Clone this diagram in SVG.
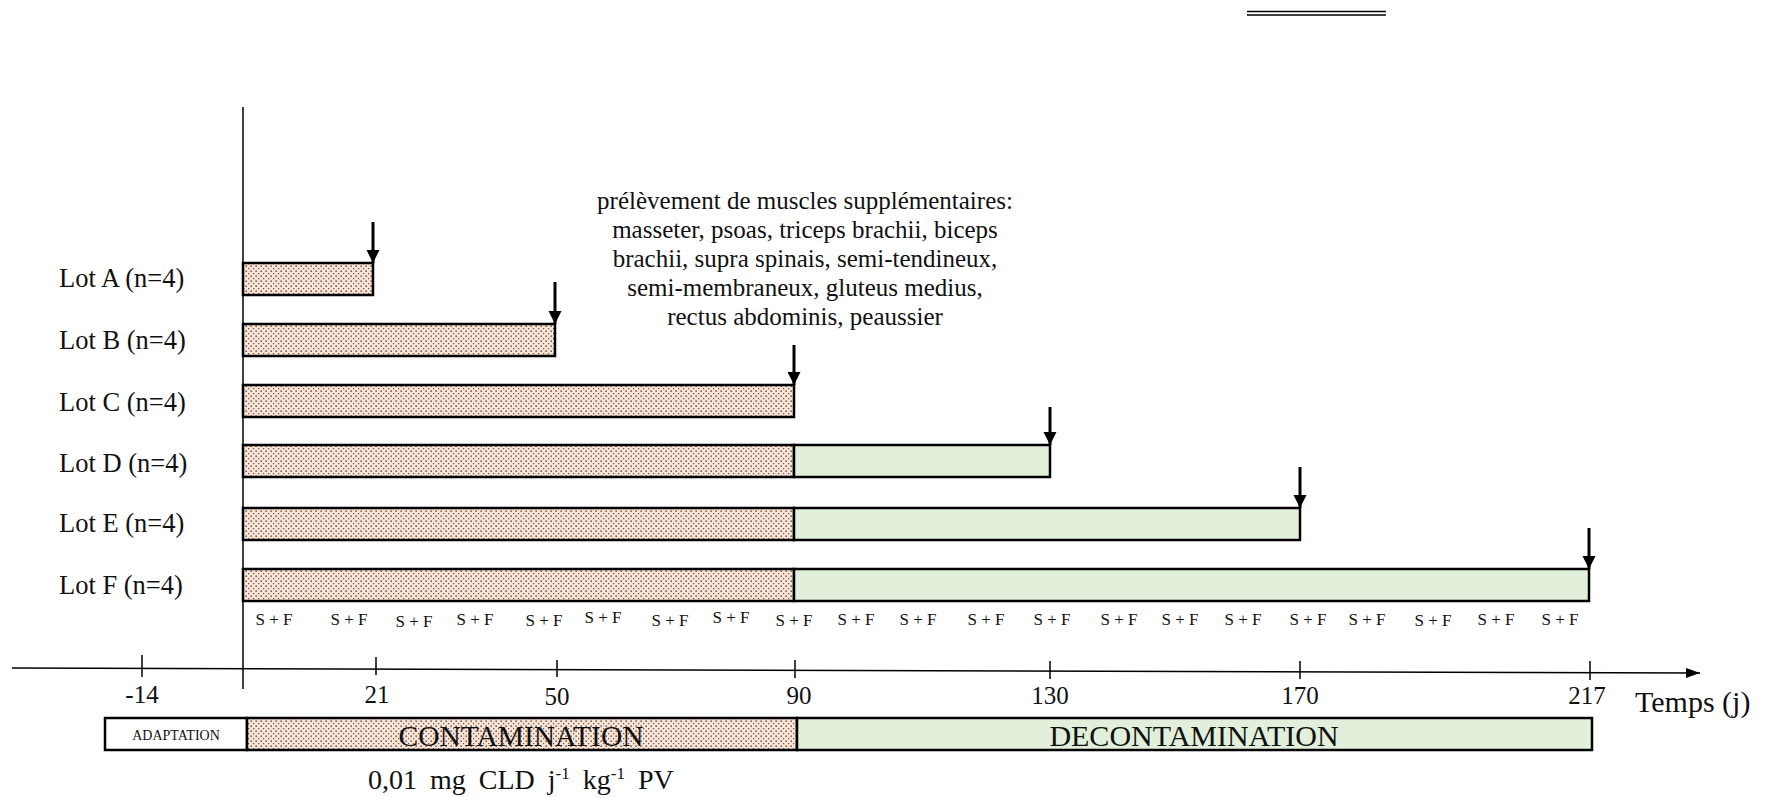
<svg xmlns="http://www.w3.org/2000/svg" width="1765" height="798" viewBox="0 0 1765 798">
<style>
  text { font-family: "Liberation Serif", "Times New Roman", serif; fill: #111; }
  .lot { font-size: 26.5px; }
  .ann { font-size: 25px; text-anchor: middle; }
  .sf { font-size: 17px; text-anchor: middle; }
  .tick { font-size: 25px; text-anchor: middle; }
  .bar { stroke: #000; stroke-width: 2.5; }
  .cont { fill: url(#dots); }
  .dec { fill: #e2efda; }
  .ln { stroke: #000; stroke-width: 1.5; fill: none; }
  .arr { stroke: #000; stroke-width: 3; fill: none; }
</style>
<defs>
  <pattern id="dots" width="5" height="5" patternUnits="userSpaceOnUse">
    <rect width="5" height="5" fill="#fbe3d4"/>
    <rect x="0.5" y="0.5" width="1.3" height="1.3" fill="#2a2a2a"/>
    <rect x="3" y="3" width="1.2" height="1.2" fill="#555"/>
  </pattern>
  <marker id="ah" markerWidth="14" markerHeight="14" refX="13" refY="6.5" orient="auto" markerUnits="userSpaceOnUse">
    <path d="M0,0 L13,6.5 L0,13 z" fill="#000"/>
  </marker>
  <marker id="axh" markerWidth="16" markerHeight="12" refX="14" refY="5" orient="auto" markerUnits="userSpaceOnUse">
    <path d="M0,0 L14,5 L0,10 z" fill="#000"/>
  </marker>
</defs>
<rect width="1765" height="798" fill="#fff"/>

<g id="top-rule">
  <line x1="1247" y1="11.5" x2="1386" y2="11.5" class="ln"/>
  <line x1="1247" y1="15" x2="1386" y2="15" class="ln"/>
</g>

<g id="axes">
  <line x1="243" y1="107" x2="243" y2="689" class="ln"/>
  <line x1="12" y1="668" x2="1700" y2="673" class="ln" marker-end="url(#axh)"/>
  <line x1="142" y1="655" x2="142" y2="677" class="ln"/>
  <line x1="376" y1="657" x2="376" y2="675" class="ln"/>
  <line x1="557" y1="660" x2="557" y2="677" class="ln"/>
  <line x1="795" y1="660" x2="795" y2="678" class="ln"/>
  <line x1="1050" y1="661" x2="1050" y2="679" class="ln"/>
  <line x1="1300" y1="661" x2="1300" y2="679" class="ln"/>
  <line x1="1590" y1="661" x2="1590" y2="680" class="ln"/>
  <text class="tick" x="142" y="703">-14</text>
  <text class="tick" x="377" y="703">21</text>
  <text class="tick" x="557" y="705">50</text>
  <text class="tick" x="799" y="704">90</text>
  <text class="tick" x="1050" y="704">130</text>
  <text class="tick" x="1300" y="704">170</text>
  <text class="tick" x="1587" y="704">217</text>
  <text x="1635" y="712" style="font-size:30px">Temps (j)</text>
</g>

<g id="lot-a">
  <text class="lot" x="59" y="287">Lot A (n=4)</text>
  <rect class="bar cont" x="243" y="263" width="130" height="32"/>
</g>
<g id="lot-b">
  <text class="lot" x="59" y="349">Lot B (n=4)</text>
  <rect class="bar cont" x="243" y="324" width="312" height="32"/>
</g>
<g id="lot-c">
  <text class="lot" x="59" y="411">Lot C (n=4)</text>
  <rect class="bar cont" x="243" y="385" width="551" height="32"/>
</g>
<g id="lot-d">
  <text class="lot" x="59" y="472">Lot D (n=4)</text>
  <rect class="bar cont" x="243" y="445" width="551" height="32"/>
  <rect class="bar dec" x="794" y="445" width="256" height="32"/>
</g>
<g id="lot-e">
  <text class="lot" x="59" y="532">Lot E (n=4)</text>
  <rect class="bar cont" x="243" y="508" width="551" height="32"/>
  <rect class="bar dec" x="794" y="508" width="506" height="32"/>
</g>
<g id="lot-f">
  <text class="lot" x="59" y="594">Lot F (n=4)</text>
  <rect class="bar cont" x="243" y="569" width="551" height="32"/>
  <rect class="bar dec" x="794" y="569" width="795" height="32"/>
</g>

<g id="annotation">
  <text class="ann" x="805" y="209">prélèvement de muscles supplémentaires:</text>
  <text class="ann" x="805" y="238">masseter, psoas, triceps brachii, biceps</text>
  <text class="ann" x="805" y="267">brachii, supra spinais, semi-tendineux,</text>
  <text class="ann" x="805" y="296">semi-membraneux, gluteus medius,</text>
  <text class="ann" x="805" y="325">rectus abdominis, peaussier</text>
</g>

<g id="samples">
  <text class="sf" x="274" y="625">S + F</text>
  <text class="sf" x="349" y="625">S + F</text>
  <text class="sf" x="414" y="627">S + F</text>
  <text class="sf" x="475" y="625">S + F</text>
  <text class="sf" x="544" y="626">S + F</text>
  <text class="sf" x="603" y="623">S + F</text>
  <text class="sf" x="670" y="626">S + F</text>
  <text class="sf" x="731" y="623">S + F</text>
  <text class="sf" x="794" y="626">S + F</text>
  <text class="sf" x="856" y="625">S + F</text>
  <text class="sf" x="918" y="625">S + F</text>
  <text class="sf" x="986" y="625">S + F</text>
  <text class="sf" x="1052" y="625">S + F</text>
  <text class="sf" x="1119" y="625">S + F</text>
  <text class="sf" x="1180" y="625">S + F</text>
  <text class="sf" x="1243" y="625">S + F</text>
  <text class="sf" x="1308" y="625">S + F</text>
  <text class="sf" x="1367" y="625">S + F</text>
  <text class="sf" x="1433" y="626">S + F</text>
  <text class="sf" x="1496" y="625">S + F</text>
  <text class="sf" x="1560" y="625">S + F</text>
</g>

<g id="phases">
  <rect class="bar" x="105" y="718" width="142" height="32" fill="#fff"/>
  <rect class="bar cont" x="247" y="718" width="550" height="32"/>
  <rect class="bar dec" x="797" y="718" width="795" height="32"/>
  <text x="176" y="740" style="font-size:14px;text-anchor:middle">ADAPTATION</text>
  <text x="521" y="746" style="font-size:29.5px;text-anchor:middle">CONTAMINATION</text>
  <text x="1194" y="746" style="font-size:30px;text-anchor:middle">DECONTAMINATION</text>
  <text x="368" y="789" style="font-size:28px;word-spacing:6px">0,01 mg CLD j<tspan dy="-10" style="font-size:17px">-1</tspan><tspan dy="10"> kg</tspan><tspan dy="-10" style="font-size:17px">-1</tspan><tspan dy="10"> PV</tspan></text>
</g>

<g id="connectors">
  <line class="arr" x1="373" y1="222" x2="373" y2="263" marker-end="url(#ah)"/>
  <line class="arr" x1="555" y1="282" x2="555" y2="324" marker-end="url(#ah)"/>
  <line class="arr" x1="794" y1="345" x2="794" y2="385" marker-end="url(#ah)"/>
  <line class="arr" x1="1050" y1="407" x2="1050" y2="445" marker-end="url(#ah)"/>
  <line class="arr" x1="1300" y1="467" x2="1300" y2="508" marker-end="url(#ah)"/>
  <line class="arr" x1="1589" y1="528" x2="1589" y2="569" marker-end="url(#ah)"/>
</g>
</svg>
